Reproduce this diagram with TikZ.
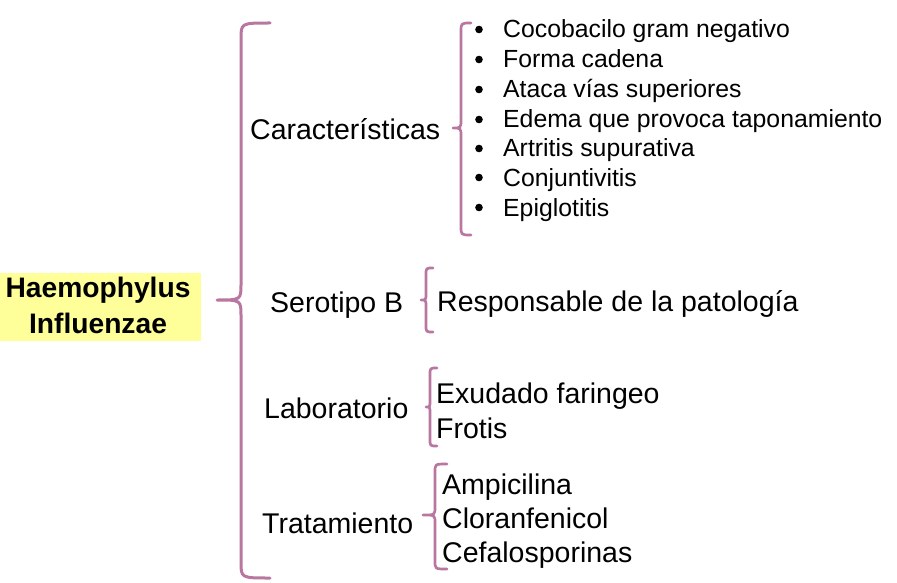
\documentclass[tikz,border=0pt]{standalone}
\usepackage{fontspec}
\setmainfont{Liberation Sans}
\definecolor{bracecol}{RGB}{184,118,160}
\definecolor{titlebg}{RGB}{255,255,153}
\newcommand{\mybrace}[8]{% xv ytop ytip ybot xtip xstub r width
  \draw[bracecol,line width=#8,line cap=round,line join=round]
    (#6,#2) .. controls (#1,#2) .. (#1,#2+#7) -- (#1,#3-#7)
    .. controls (#1,#3) .. (#5,#3) .. controls (#1,#3) .. (#1,#3+#7)
    -- (#1,#4-#7) .. controls (#1,#4) .. (#6,#4);}
\tikzset{
  cat/.style={anchor=base west,inner sep=0pt,font=\fontsize{28.5}{34}\selectfont},
  item/.style={anchor=base west,inner sep=0pt,font=\fontsize{24.8}{30}\selectfont},
  titletext/.style={anchor=base,inner sep=0pt,font=\fontsize{28.2}{32}\selectfont\bfseries},
}
\begin{document}
\begin{tikzpicture}[x=1pt,y=-1pt]
\useasboundingbox (0,0) rectangle (897,583);
% title box
\fill[titlebg] (0,273) rectangle (201,341);
\node[titletext] (t1) at (98,297) {Haemophylus};
\node[titletext] (t2) at (98,333) {Influenzae};
% main brace
\mybrace{241}{23}{300}{578}{217}{270}{16}{3pt}
% categories
\node[cat] (car) at (250,140) {Características};
\node[cat] (sero) at (270,312) {Serotipo B};
\node[cat] (lab) at (264,418) {Laboratorio};
\node[cat] (trat) at (262,533) {Tratamiento};
% sub braces
\mybrace{461}{23}{128}{235}{453}{471}{9}{2.7pt}
\mybrace{426}{268}{300}{332}{421}{433}{7}{2.7pt}
\mybrace{430}{368}{407}{446}{426}{437}{7}{2.7pt}
\mybrace{435}{464}{515}{569}{423}{447}{8}{2.7pt}
% caracteristicas list
\foreach \t/\y [count=\i] in {Cocobacilo gram negativo/38,Forma cadena/68,Ataca vías superiores/98,Edema que provoca taponamiento/128,Artritis supurativa/157,Conjuntivitis/186,Epiglotitis/216}{
  \fill (479,\y-8.5) circle (3.8);
  \node[item] (c\i) at (503,\y) {\t};
}
% serotipo
\node[cat] (resp) at (437,311) {Responsable de la patología};
% laboratorio
\node[cat] (l1) at (436,403) {Exudado faringeo};
\node[cat] (l2) at (436,438) {Frotis};
% tratamiento
\node[cat] (m1) at (442,494) {Ampicilina};
\node[cat] (m2) at (442,528) {Cloranfenicol};
\node[cat] (m3) at (442,562) {Cefalosporinas};
\end{tikzpicture}
\end{document}
